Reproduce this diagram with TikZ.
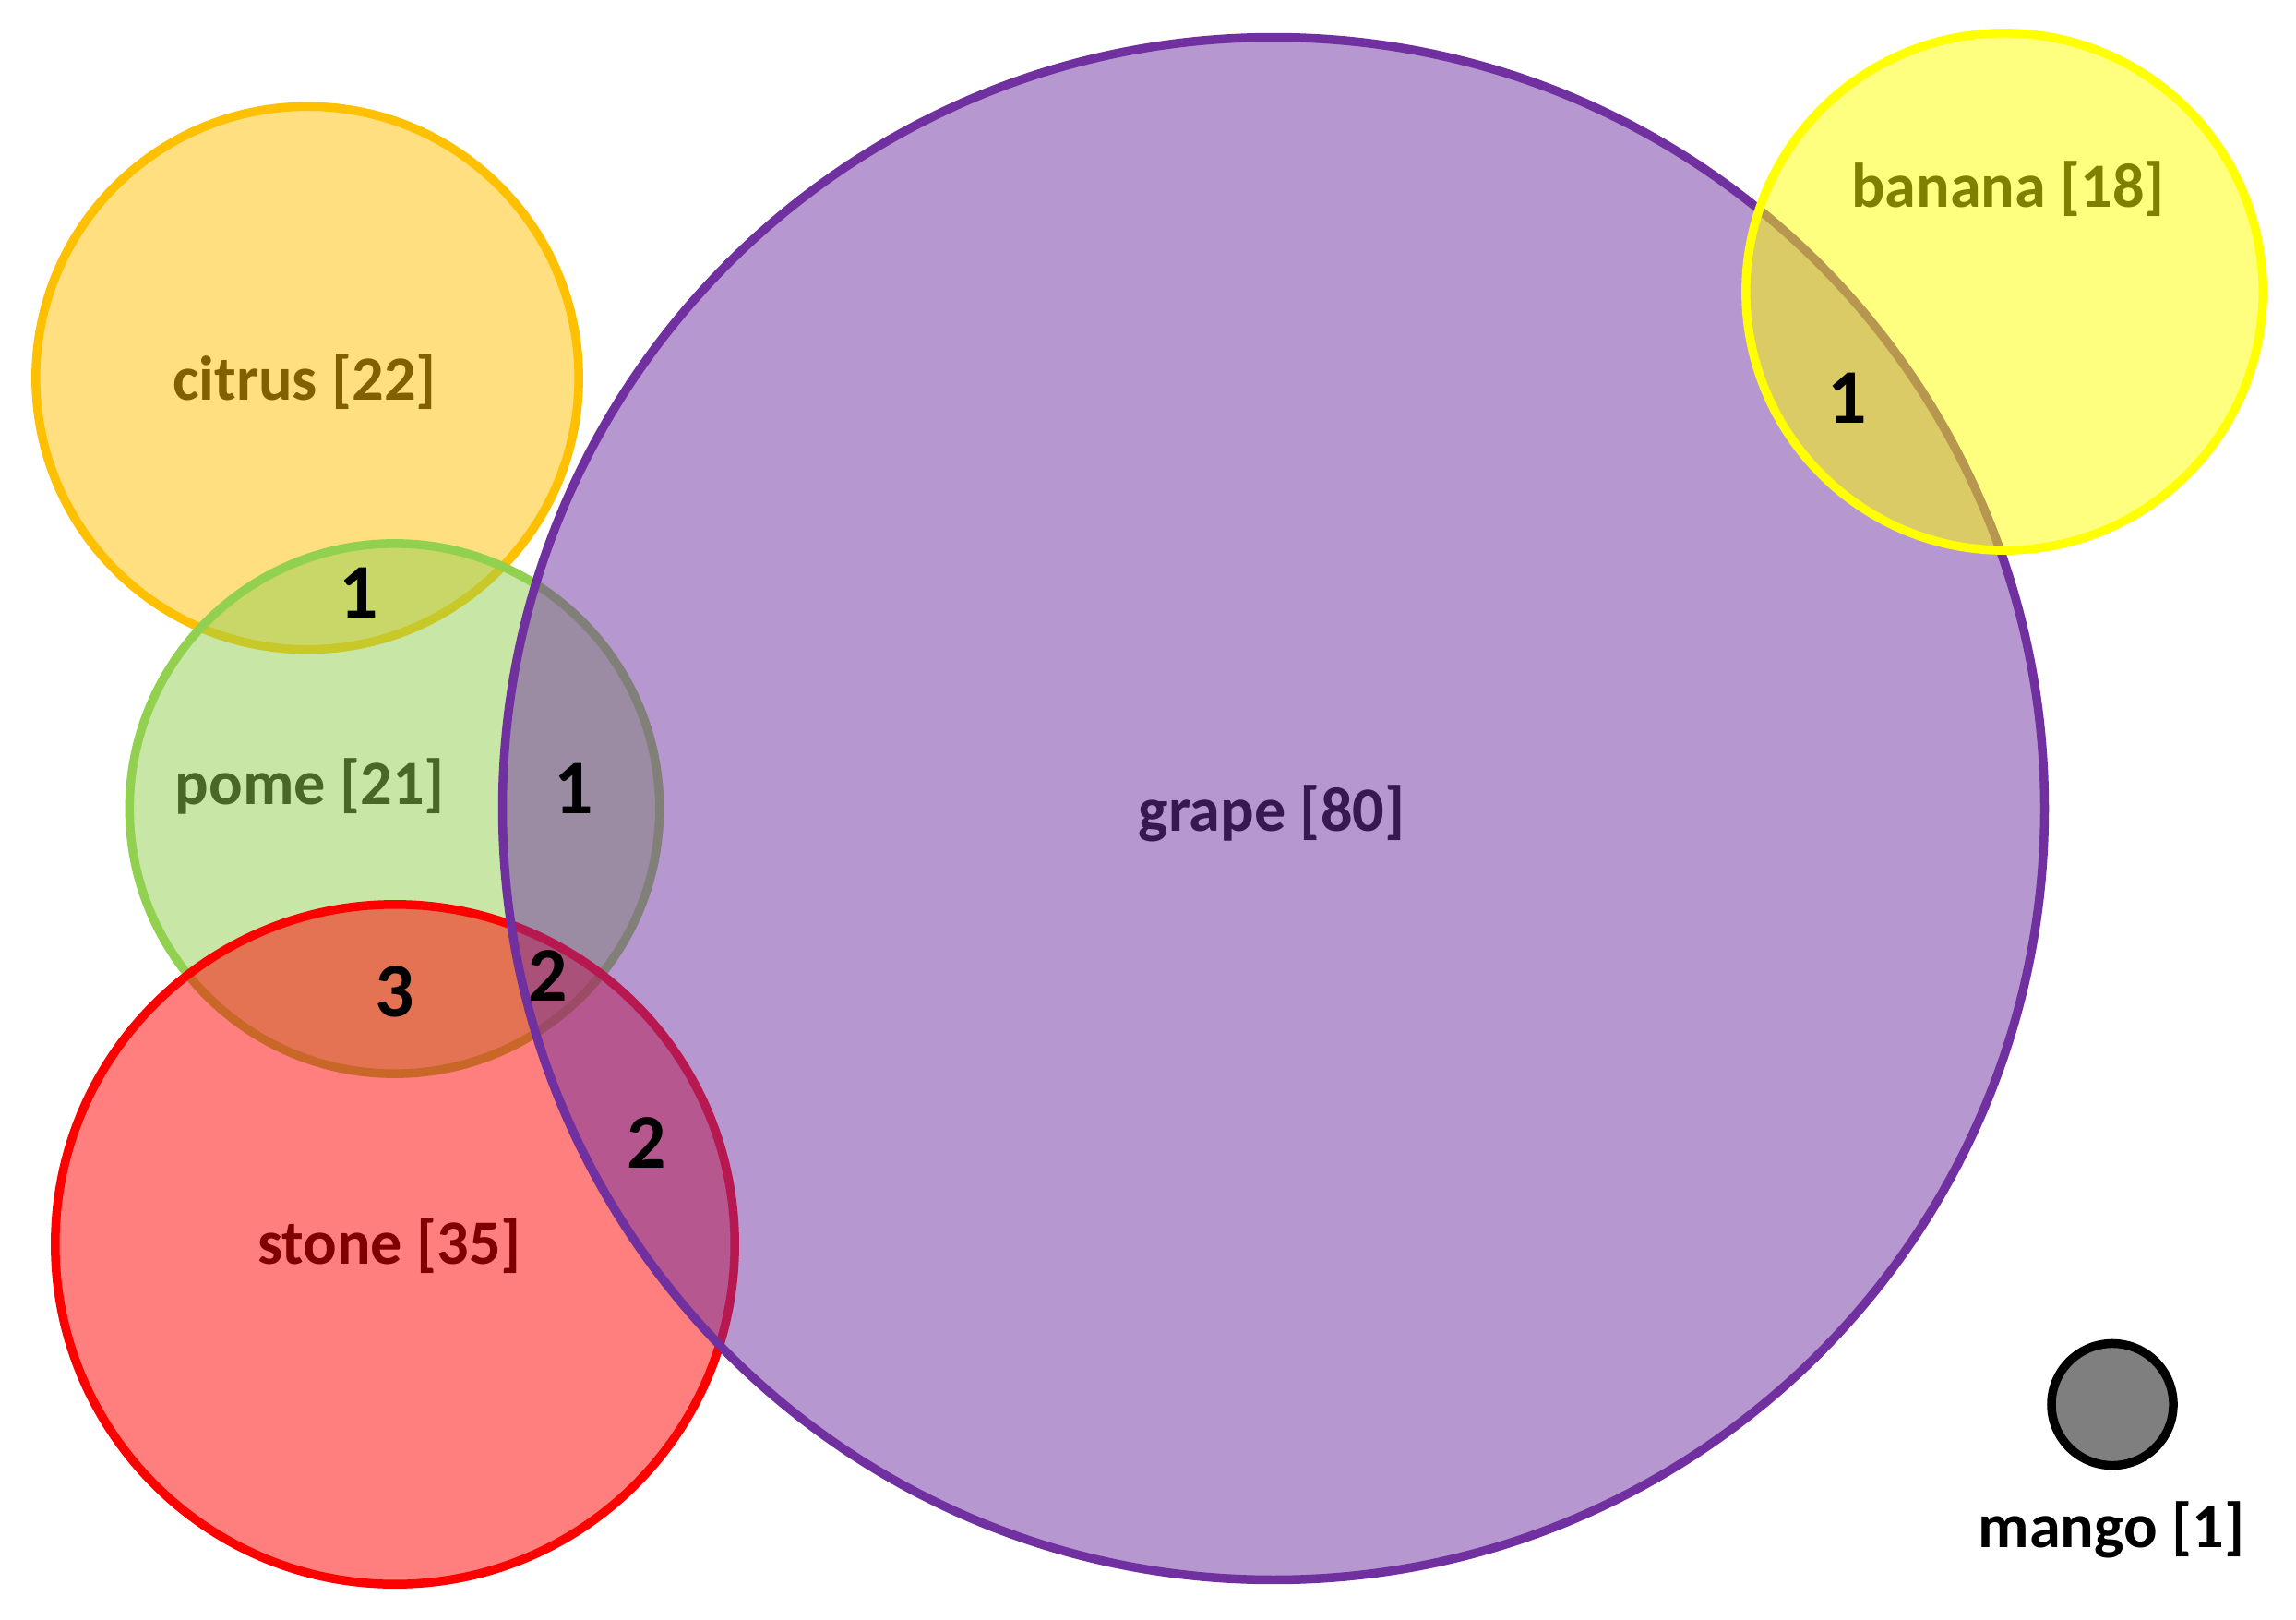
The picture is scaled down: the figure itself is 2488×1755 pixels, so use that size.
\documentclass[tikz,border=0pt]{standalone}
\usepackage{fontspec}
\setmainfont{Carlito}
\definecolor{citrusC}{HTML}{FFC000}
\definecolor{pomeC}{HTML}{92D050}
\definecolor{stoneC}{HTML}{FF0000}
\definecolor{grapeC}{HTML}{7030A0}
\definecolor{bananaC}{HTML}{FFFF00}
\definecolor{citrusT}{HTML}{806000}
\definecolor{pomeT}{HTML}{496828}
\definecolor{stoneT}{HTML}{800000}
\definecolor{grapeT}{HTML}{381850}
\definecolor{bananaT}{HTML}{808000}
\begin{document}
\begin{tikzpicture}[x=0.01cm,y=-0.01cm,
  setc/.style={circle, inner sep=0pt, line width=2.7pt, fill opacity=0.5, draw opacity=1, text opacity=1},
  lab/.style={font=\bfseries\fontsize{19.4}{23}\selectfont, inner sep=0pt},
  num/.style={font=\bfseries\fontsize{23.8}{28}\selectfont, inner sep=0pt, text=black}]
\useasboundingbox (0,0) rectangle (2488,1755);
\fill[white] (0,0) rectangle (2488,1755);
% circles (drawn in order, each fill covers earlier edges)
\node[setc, draw=citrusC, fill=citrusC, minimum size=5.88cm] (citrus) at (333,409.5) {};
\node[setc, draw=pomeC, fill=pomeC, minimum size=5.74cm] (pome) at (427.5,876) {};
\node[setc, draw=stoneC, fill=stoneC, minimum size=7.36cm] (stone) at (428,1348) {};
\node[setc, draw=grapeC, fill=grapeC, minimum size=16.70cm] (grape) at (1380,876) {};
\node[setc, draw=bananaC, fill=bananaC, minimum size=5.60cm] (banana) at (2172,316) {};
\node[setc, draw=black, fill=black, minimum size=1.32cm] (mango) at (2289,1521.5) {};
% set labels
\node[lab, text=citrusT] (citrusL) at (330,414) {citrus [22]};
\node[lab, text=pomeT] (pomeL) at (336,852) {pome [21]};
\node[lab, text=stoneT] (stoneL) at (422,1350) {stone [35]};
\node[lab, text=grapeT] (grapeL) at (1378,881) {grape [80]};
\node[lab, text=bananaT] (bananaL) at (2176,205) {banana [18]};
\node[lab, text=black] (mangoL) at (2288,1657) {mango [1]};
% overlap counts
\node[num] (n1) at (389,642) {1};
\node[num] (n2) at (622,854) {1};
\node[num] (n3) at (428,1074) {3};
\node[num] (n4) at (594,1057.5) {2};
\node[num] (n5) at (701,1238) {2};
\node[num] (n6) at (2002,431) {1};
\end{tikzpicture}
\end{document}
